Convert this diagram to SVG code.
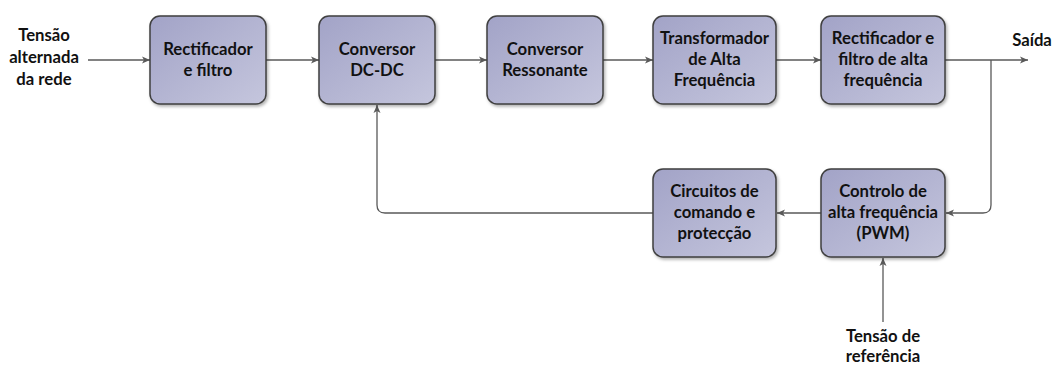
<svg xmlns="http://www.w3.org/2000/svg" width="1055" height="365" viewBox="0 0 1055 365">
<style>
.box{fill:url(#g);stroke:#3f3f3f;stroke-width:1.5;filter:url(#sh)}
.t{font-family:Lato,"Open Sans","Liberation Sans",sans-serif;font-weight:bold;font-size:16.7px;fill:#111;text-anchor:middle}
.c{fill:none;stroke:#595959;stroke-width:1.3}
</style>
<defs>
<linearGradient id="g" x1="0" y1="0" x2="1" y2="1">
<stop offset="0" stop-color="#a2a3c7"/>
<stop offset="1" stop-color="#c5c6dd"/>
</linearGradient>
<filter id="sh" x="-10%" y="-10%" width="130%" height="130%">
<feDropShadow dx="1.5" dy="2" stdDeviation="1.5" flood-color="#000" flood-opacity="0.3"/>
</filter>
<marker id="a" markerUnits="userSpaceOnUse" markerWidth="10" markerHeight="10" viewBox="0 0 10 10" refX="9" refY="5" orient="auto">
<path d="M1,1.5 L9,5 L1,8.5 L3,5 Z" fill="#595959"/>
</marker>
</defs>
<g id="connectors">
<line class="c" x1="88" y1="60" x2="150" y2="60" marker-end="url(#a)"/>
<line class="c" x1="266" y1="60" x2="319" y2="60" marker-end="url(#a)"/>
<line class="c" x1="435" y1="60" x2="487" y2="60" marker-end="url(#a)"/>
<line class="c" x1="603" y1="60" x2="653" y2="60" marker-end="url(#a)"/>
<line class="c" x1="776" y1="60" x2="821" y2="60" marker-end="url(#a)"/>
<line class="c" x1="945" y1="60" x2="1028" y2="60" marker-end="url(#a)"/>
<path class="c" d="M991,60 V205 Q991,213 983,213 H946" marker-end="url(#a)"/>
<line class="c" x1="821" y1="213" x2="777" y2="213" marker-end="url(#a)"/>
<path class="c" d="M653,213 H385 Q377,213 377,205 V105" marker-end="url(#a)"/>
<line class="c" x1="883" y1="322" x2="883" y2="258" marker-end="url(#a)"/>
</g>
<g id="n1"><rect class="box" x="150" y="16" width="116" height="88" rx="10"/><text class="t"><tspan x="208" y="55">Rectificador</tspan><tspan x="208" y="76">e filtro</tspan></text></g>
<g id="n2"><rect class="box" x="319" y="16" width="116" height="88" rx="10"/><text class="t"><tspan x="377" y="55">Conversor</tspan><tspan x="377" y="76">DC-DC</tspan></text></g>
<g id="n3"><rect class="box" x="487" y="16" width="116" height="88" rx="10"/><text class="t"><tspan x="545" y="55">Conversor</tspan><tspan x="545" y="76">Ressonante</tspan></text></g>
<g id="n4"><rect class="box" x="653" y="16" width="123" height="88" rx="10"/><text class="t"><tspan x="714.5" y="44">Transformador</tspan><tspan x="714.5" y="65">de Alta</tspan><tspan x="714.5" y="86">Frequência</tspan></text></g>
<g id="n5"><rect class="box" x="821" y="16" width="124" height="88" rx="10"/><text class="t"><tspan x="883" y="44">Rectificador e</tspan><tspan x="883" y="65">filtro de alta</tspan><tspan x="883" y="86">frequência</tspan></text></g>
<g id="n6"><rect class="box" x="653" y="169" width="123" height="88" rx="10"/><text class="t"><tspan x="714.5" y="197">Circuitos de</tspan><tspan x="714.5" y="218">comando e</tspan><tspan x="714.5" y="239">protecção</tspan></text></g>
<g id="n7"><rect class="box" x="821" y="169" width="124" height="88" rx="10"/><text class="t"><tspan x="883" y="197">Controlo de</tspan><tspan x="883" y="218">alta frequência</tspan><tspan x="883" y="239">(PWM)</tspan></text></g>
<g id="in"><text class="t"><tspan x="44" y="41">Tensão</tspan><tspan x="44" y="63">alternada</tspan><tspan x="44" y="85">da rede</tspan></text></g>
<g id="out"><text class="t" x="1032" y="46">Saída</text></g>
<g id="ref"><text class="t"><tspan x="883" y="342">Tensão de</tspan><tspan x="883" y="362">referência</tspan></text></g>
</svg>
